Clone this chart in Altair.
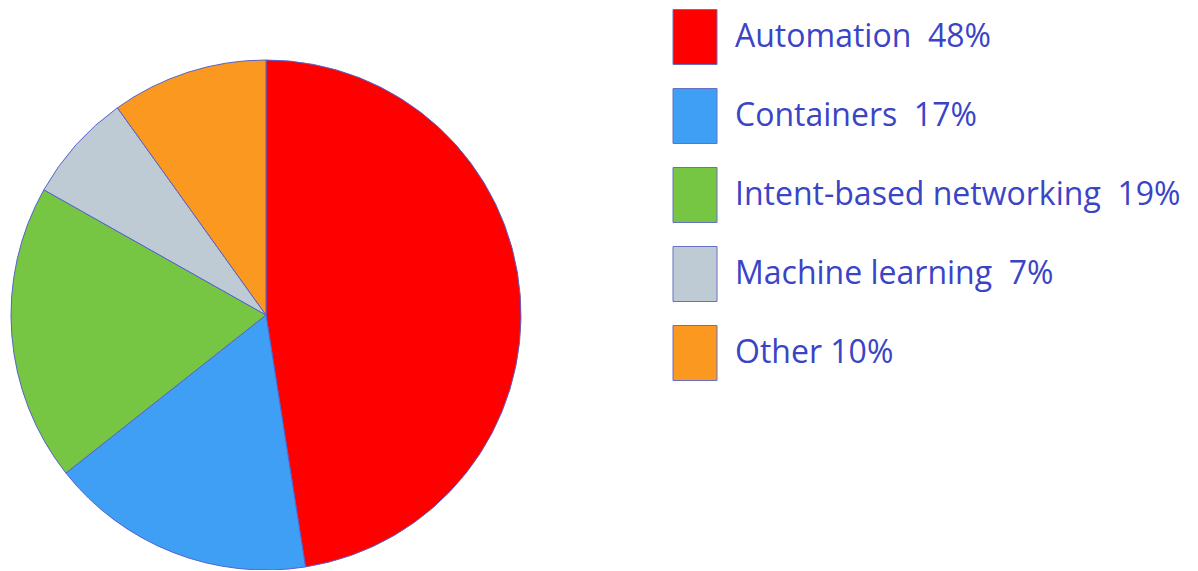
import altair as alt
import pandas as pd

categories = ["Automation", "Containers", "Intent-based networking", "Machine learning", "Other"]
shares = [48, 17, 19, 7, 10]
labels = ["Automation\u00a0\u00a048%", "Containers\u00a0\u00a017%", "Intent-based networking\u00a0\u00a019%",
          "Machine learning\u00a0\u00a07%", "Other 10%"]
colors = ["#ff0000", "#3f9ff5", "#76c543", "#bfcbd4", "#fb981f"]

df = pd.DataFrame({
    "category": categories,
    "share": shares,
    "label": labels,
    "idx": list(range(len(categories))),
})

text_color = "#3a44c6"
edge_color = "#5563cc"

pie = alt.Chart(df).mark_arc(
    outerRadius=255, stroke=edge_color, strokeWidth=1
).encode(
    theta=alt.Theta("share:Q", stack=True),
    order=alt.Order("idx:Q"),
    x=alt.value(258),
    y=alt.value(307),
    color=alt.Color(
        "label:N",
        sort=labels,
        scale=alt.Scale(domain=labels, range=colors),
        legend=alt.Legend(
            title=None,
            orient="none",
            legendX=659,
            legendY=1,
            padding=0,
            symbolType="M-0.8,-1L0.8,-1L0.8,1L-0.8,1Z",
            symbolSize=3025,
            symbolStrokeColor="#6670c4",
            symbolStrokeWidth=1,
            symbolOpacity=1,
            labelFont="Open Sans",
            labelFontSize=32,
            labelColor=text_color,
            labelOffset=12,
            labelLimit=0,
            rowPadding=19,
        ),
    ),
    tooltip=["category", "share"],
)

chart = pie.properties(
    width=1182, height=562, padding=0,
    autosize=alt.AutoSizeParams(type="none"),
).configure_view(stroke=None)

chart.save("out.html", embed_options={"renderer": "svg", "actions": False})
